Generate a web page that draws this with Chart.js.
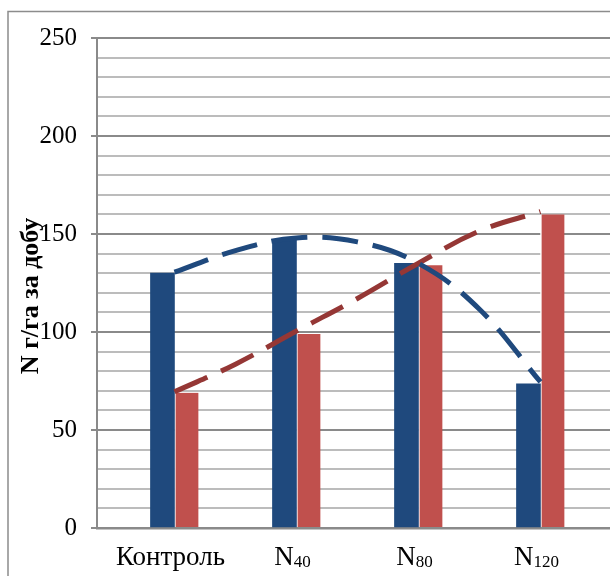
<!DOCTYPE html>
<html>
<head>
<meta charset="utf-8">
<script src="https://cdn.jsdelivr.net/npm/chart.js@4/dist/chart.umd.min.js"></script>
<style>
  html, body { margin: 0; padding: 0; background: #fff; }
  #wrap { width: 610px; height: 576px; }
</style>
</head>
<body>
<div id="wrap"><canvas id="chart" width="610" height="576"></canvas></div>
<script>
// Categories along the horizontal axis (digits after "N" are drawn as a subscript)
const categories = ['Контроль', 'N40', 'N80', 'N120'];

// Bar series values
const blueValues = [130, 147, 135, 73.5];
const redValues = [69, 99, 134, 160];

// Trend curves, sampled at half-category steps
const trendPositions = [0, 0.5, 1, 1.5, 2, 2.5, 3];
const blueTrend = [130.5, 141.5, 148, 146, 135, 111.6, 74.5];
const redTrend = [69.5, 83.6, 100.5, 117.1, 135.1, 151.5, 161.4];

// Value axis
const yMin = 0, yMax = 250, yStep = 10, yLabelEvery = 50;
const yTitle = 'N г/га за добу';

const SERIF = "'Liberation Serif', 'Times New Roman', serif";
const BLUE = '#1F497D';
const RED = '#C0504D';
const RED_TREND = '#953735';
const AXIS_GREY = '#8a8a8a';
const MINOR_GREY = '#bcbcbc';

const toPoints = (xs, ys) => ys.map((y, i) => ({ x: xs[i], y }));
const indices = categories.map((_, i) => i);

// Outer frame, rotated axis title and category labels with subscripts
const decorations = {
  id: 'decorations',
  afterDraw(chart) {
    const { ctx } = chart;
    const xScale = chart.scales.x;
    ctx.save();

    // frame
    ctx.strokeStyle = '#8c8c8c';
    ctx.lineWidth = 1.5;
    ctx.beginPath();
    ctx.moveTo(8, 576);
    ctx.lineTo(8, 11.5);
    ctx.lineTo(610, 11.5);
    ctx.stroke();

    // axis title
    ctx.fillStyle = '#000';
    ctx.font = 'bold 26px ' + SERIF;
    ctx.textAlign = 'center';
    ctx.textBaseline = 'middle';
    ctx.translate(31, 296);
    ctx.rotate(-Math.PI / 2);
    ctx.fillText(yTitle, 0, 0);
    ctx.setTransform(1, 0, 0, 1, 0, 0);

    // category labels
    const mainFont = '27px ' + SERIF;
    const subFont = '17px ' + SERIF;
    ctx.textAlign = 'left';
    ctx.textBaseline = 'alphabetic';
    const baseline = 565;
    categories.forEach((label, i) => {
      const m = label.match(/^([^\d]+)(\d+)$/);
      const main = m ? m[1] : label;
      const sub = m ? m[2] : '';
      ctx.font = mainFont;
      const wMain = ctx.measureText(main).width;
      ctx.font = subFont;
      const wSub = sub ? ctx.measureText(sub).width : 0;
      const cx = xScale.getPixelForValue(i) - 4;
      const x = cx - (wMain + wSub) / 2;
      ctx.font = mainFont;
      ctx.fillText(main, x, baseline);
      if (sub) {
        ctx.font = subFont;
        ctx.fillText(sub, x + wMain, baseline + 2);
      }
    });
    ctx.restore();
  }
};

new Chart(document.getElementById('chart'), {
  type: 'bar',
  data: {
    datasets: [
      {
        type: 'line',
        label: 'Тренд 1',
        data: toPoints(trendPositions, blueTrend),
        borderColor: BLUE,
        borderWidth: 5,
        borderDash: [36, 15],
        borderCapStyle: 'butt',
        tension: 0.4,
        pointRadius: 0,
        fill: false,
        order: 0
      },
      {
        type: 'line',
        label: 'Тренд 2',
        data: toPoints(trendPositions, redTrend),
        borderColor: RED_TREND,
        borderWidth: 5,
        borderDash: [36, 15],
        borderCapStyle: 'butt',
        tension: 0.4,
        pointRadius: 0,
        fill: false,
        order: 0
      },
      {
        label: 'Ряд 1',
        data: toPoints(indices, blueValues),
        backgroundColor: BLUE,
        barThickness: 24,
        order: 1
      },
      {
        label: 'Ряд 2',
        data: toPoints(indices, redValues),
        backgroundColor: RED,
        borderColor: '#ffffff',
        borderWidth: { left: 1.5, top: 0, right: 0, bottom: 0 },
        borderSkipped: false,
        barThickness: 24,
        order: 1
      }
    ]
  },
  options: {
    responsive: false,
    animation: false,
    layout: { padding: { top: 38, right: 0, bottom: 48, left: 0 } },
    plugins: {
      legend: { display: false },
      tooltip: { enabled: false }
    },
    scales: {
      x: {
        type: 'linear',
        offset: false,
        min: -0.635,
        max: 3.57,
        ticks: { display: false },
        grid: { display: false, drawTicks: false },
        border: { display: true, color: AXIS_GREY, width: 2.5 },
        afterFit(scale) { scale.height = 0; }
      },
      y: {
        min: yMin,
        max: yMax,
        afterFit(scale) { scale.width = 97; },
        ticks: {
          stepSize: yStep,
          autoSkip: false,
          padding: 14,
          color: '#000',
          font: { family: SERIF, size: 25 },
          callback: (v) => (v % yLabelEvery === 0 ? String(v) : '')
        },
        grid: {
          tickLength: 6,
          lineWidth: 2,
          color: (c) => (c.tick && c.tick.value % yLabelEvery === 0 ? AXIS_GREY : MINOR_GREY),
          tickColor: (c) => (c.tick && c.tick.value % yLabelEvery === 0 ? AXIS_GREY : 'rgba(0,0,0,0)')
        },
        border: { display: true, color: AXIS_GREY, width: 2 }
      }
    }
  },
  plugins: [decorations]
});
</script>
</body>
</html>
